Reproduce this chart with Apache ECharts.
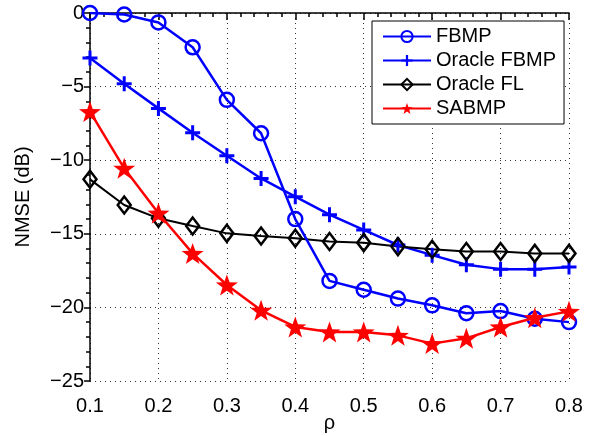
<!DOCTYPE html>
<html>
<head>
<meta charset="utf-8">
<script src="https://cdn.jsdelivr.net/npm/echarts@6/dist/echarts.min.js"></script>
<style>
  html, body { margin: 0; padding: 0; background: #fff; }
  #chart { width: 593px; height: 436px; }
</style>
</head>
<body>
<div id="chart"></div>
<script>
  // sparsity values (x axis)
  var rho = [0.1, 0.15, 0.2, 0.25, 0.3, 0.35, 0.4, 0.45, 0.5, 0.55, 0.6, 0.65, 0.7, 0.75, 0.8];

  // NMSE (dB) per method
  var fbmp = [0, -0.1, -0.64, -2.33, -5.9, -8.17, -14.0, -18.2, -18.8, -19.4, -19.86, -20.4, -20.25, -20.77, -21.0];
  var oracleFbmp = [-3.06, -4.8, -6.48, -8.13, -9.7, -11.24, -12.48, -13.7, -14.74, -15.76, -16.45, -17.1, -17.4, -17.4, -17.25];
  var oracleFl = [-11.3, -13.04, -13.95, -14.47, -14.97, -15.15, -15.3, -15.53, -15.6, -15.87, -16.05, -16.2, -16.2, -16.33, -16.33];
  var sabmp = [-6.7, -10.55, -13.6, -16.33, -18.48, -20.2, -21.33, -21.67, -21.67, -21.9, -22.46, -22.1, -21.33, -20.7, -20.27];

  var FONT = 'Liberation Sans, Arial, Helvetica, sans-serif';
  var PLUS = 'path://M4,0H6V4H10V6H6V10H4V6H0V4H4Z';
  var STAR = 'path://M10,0L12.35,6.76L19.51,6.91L13.8,11.24L15.88,18.09L10,14L4.12,18.09L6.2,11.24L0.49,6.91L7.65,6.76Z';

  function pairs(ys) {
    return rho.map(function(x, i) { return [x, ys[i]]; });
  }

  function minus(v) {
    return String(v).replace('-', '\u2212');
  }

  var dotted = { type: [1, 4], color: '#333', width: 1 };
  var text = { fontFamily: FONT, fontSize: 20, color: '#000' };

  var chart = echarts.init(document.getElementById('chart'));
  chart.setOption({
    animation: false,
    backgroundColor: '#fff',
    grid: { left: 90, right: 24, top: 13, bottom: 55, outerBoundsMode: 'none', containLabel: false },
    legend: {
      left: 372,
      top: 21,
      orient: 'vertical',
      backgroundColor: '#fff',
      borderColor: '#000',
      borderWidth: 1,
      padding: [5, 8, 5, 10],
      itemGap: 3,
      itemWidth: 48,
      itemHeight: 14,
      textStyle: { fontFamily: FONT, fontSize: 20, color: '#000', lineHeight: 21 },
      data: ['FBMP', 'Oracle FBMP', 'Oracle FL', 'SABMP']
    },
    xAxis: {
      type: 'value',
      min: 0.1,
      max: 0.8,
      interval: 0.1,
      name: '\u03c1',
      nameLocation: 'middle',
      nameGap: 32,
      nameMoveOverlap: false,
      nameTextStyle: text,
      axisLine: { lineStyle: { color: '#000', width: 1.5 } },
      axisTick: { inside: false, length: 7, lineStyle: { color: '#000', width: 1.5 } },
      minorTick: { show: true, splitNumber: 5, length: 4, lineStyle: { color: '#000', width: 1.5 } },
      axisLabel: Object.assign({ margin: 15, formatter: function(v) { return v.toFixed(1); } }, text),
      splitLine: { show: true, lineStyle: dotted }
    },
    yAxis: {
      type: 'value',
      min: -25,
      max: 0,
      interval: 5,
      name: 'NMSE (dB)',
      nameLocation: 'middle',
      nameGap: 57,
      nameMoveOverlap: false,
      nameTextStyle: text,
      axisLine: { lineStyle: { color: '#000', width: 1.5 } },
      axisTick: { inside: false, length: 6, lineStyle: { color: '#000', width: 1.5 } },
      minorTick: { show: true, splitNumber: 5, length: 4, lineStyle: { color: '#000', width: 1.5 } },
      axisLabel: Object.assign({ margin: 6, formatter: minus }, text),
      splitLine: { show: true, lineStyle: dotted }
    },
    series: [
      {
        name: 'FBMP',
        type: 'line',
        data: pairs(fbmp),
        symbol: 'circle',
        symbolSize: 14,
        lineStyle: { color: '#0000ff', width: 2.5 },
        itemStyle: { color: 'rgba(0,0,0,0)', borderColor: '#0000ff', borderWidth: 2.5 },
        z: 3
      },
      {
        name: 'Oracle FBMP',
        type: 'line',
        data: pairs(oracleFbmp),
        symbol: PLUS,
        symbolSize: 15,
        lineStyle: { color: '#0000ff', width: 2.5 },
        itemStyle: { color: '#0000ff' },
        z: 2
      },
      {
        name: 'Oracle FL',
        type: 'line',
        data: pairs(oracleFl),
        symbol: 'diamond',
        symbolSize: [13, 17],
        lineStyle: { color: '#000', width: 2 },
        itemStyle: { color: 'rgba(0,0,0,0)', borderColor: '#000', borderWidth: 2.5 },
        z: 2
      },
      {
        name: 'SABMP',
        type: 'line',
        data: pairs(sabmp),
        symbol: STAR,
        symbolSize: [22, 21],
        lineStyle: { color: '#ff0000', width: 2.5 },
        itemStyle: { color: '#ff0000' },
        z: 4
      }
    ]
  });
</script>
</body>
</html>
